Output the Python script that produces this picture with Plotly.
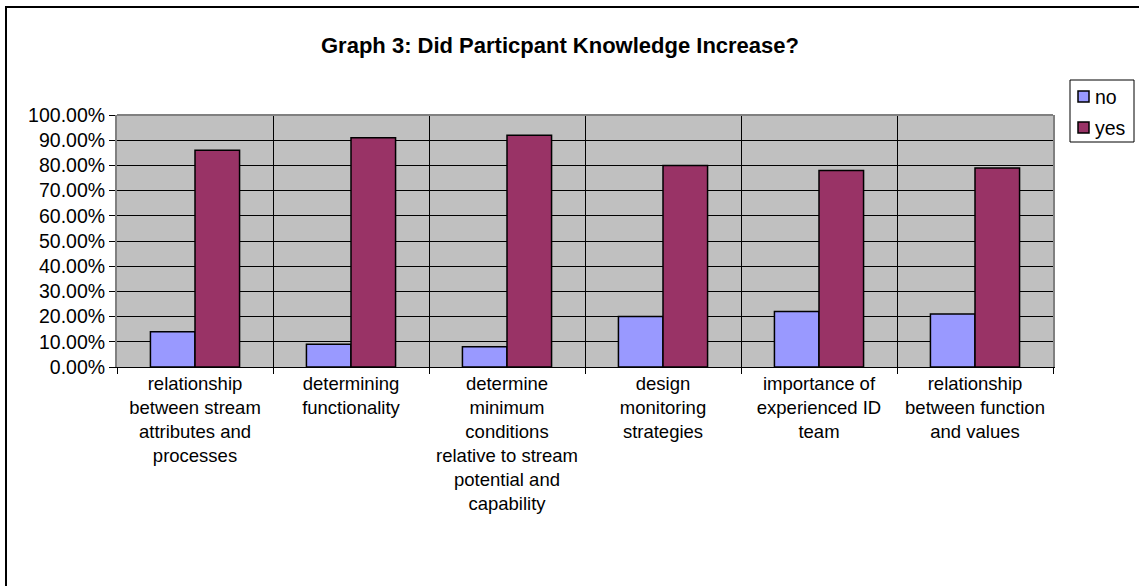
import plotly.graph_objects as go

# Survey results: share of participants answering "no" / "yes"
categories = [
    "relationship<br>between stream<br>attributes and<br>processes",
    "determining<br>functionality",
    "determine<br>minimum<br>conditions<br>relative to stream<br>potential and<br>capability",
    "design<br>monitoring<br>strategies",
    "importance of<br>experienced ID<br>team",
    "relationship<br>between function<br>and values",
]
no_share = [0.14, 0.09, 0.08, 0.20, 0.22, 0.21]
yes_share = [0.86, 0.91, 0.92, 0.80, 0.78, 0.79]
series_names = ["no", "yes"]
series_colors = ["#9999FF", "#993366"]
title_text = "Graph 3: Did Particpant Knowledge Increase?"

W, H = 1139, 586
PL, PR, PT, PB = 117, 1053, 115, 367  # plot-area box in pixels
FONT = "Liberation Sans, Arial, sans-serif"


def fx(px):
    return (px - PL) / (PR - PL)


def fy(py):
    return (PB - py) / (PB - PT)


positions = list(range(len(categories)))

fig = go.Figure()
for name, vals, col in zip(series_names, [no_share, yes_share], series_colors):
    fig.add_trace(go.Bar(
        x=positions, y=vals, name=name,
        marker=dict(color=col, line=dict(color="black", width=1.5)),
        showlegend=False,
    ))

fig.update_layout(
    width=W, height=H,
    margin=dict(l=PL, r=W - PR, t=PT, b=H - PB, pad=0),
    paper_bgcolor="white",
    plot_bgcolor="#C0C0C0",
    barmode="group",
    bargap=1.5 / 3.5,
    bargroupgap=0,
    font=dict(family=FONT, size=18.5, color="black"),
    xaxis=dict(
        range=[-0.5, len(categories) - 0.5],
        tickmode="array", tickvals=positions, ticktext=categories,
        ticks="", showgrid=False, zeroline=False,
        showline=True, linecolor="black", linewidth=1,
        tickfont=dict(size=18.5),
        minor=dict(
            tickmode="array",
            tickvals=[p - 0.5 for p in positions] + [positions[-1] + 0.5],
            ticks="outside", ticklen=6, tickcolor="black", tickwidth=1,
            showgrid=True, gridcolor="black", gridwidth=1,
        ),
        fixedrange=True,
    ),
    yaxis=dict(
        range=[0, 1], dtick=0.1, tickformat=".2%",
        ticks="outside", ticklen=6, tickcolor="black",
        showgrid=True, gridcolor="black", gridwidth=1,
        zeroline=False, showline=True, linecolor="#808080", linewidth=2,
        mirror=True, tickfont=dict(size=19.5),
        fixedrange=True,
    ),
)

shapes = [
    # top edge of the plot area
    dict(type="line", xref="paper", yref="paper", x0=0, x1=1, y0=1, y1=1,
         line=dict(color="#808080", width=2)),
    # outer chart frame
    dict(type="rect", xref="paper", yref="paper",
         x0=fx(6), x1=fx(W + 20), y0=fy(H + 20), y1=fy(7),
         line=dict(color="black", width=2)),
    # legend box
    dict(type="rect", xref="paper", yref="paper",
         x0=fx(1070), x1=fx(1134), y0=fy(142), y1=fy(80),
         line=dict(color="black", width=1), fillcolor="white"),
]
annotations = [
    dict(text="<b>%s</b>" % title_text, xref="paper", yref="paper",
         x=fx(560), y=fy(45), xanchor="center", yanchor="middle",
         showarrow=False, font=dict(size=22, family=FONT, color="black")),
]
for i, (name, col) in enumerate(zip(series_names, series_colors)):
    cy = 96.5 + i * 31
    shapes.append(dict(type="rect", xref="paper", yref="paper",
                       x0=fx(1078), x1=fx(1089), y0=fy(cy + 5.5), y1=fy(cy - 5.5),
                       fillcolor=col, line=dict(color="black", width=1.5)))
    annotations.append(dict(text=name, xref="paper", yref="paper",
                            x=fx(1093), y=fy(cy), xanchor="left", yanchor="middle",
                            showarrow=False, font=dict(size=19.5, family=FONT)))

fig.update_layout(shapes=shapes, annotations=annotations)
fig.write_html("out.html")
